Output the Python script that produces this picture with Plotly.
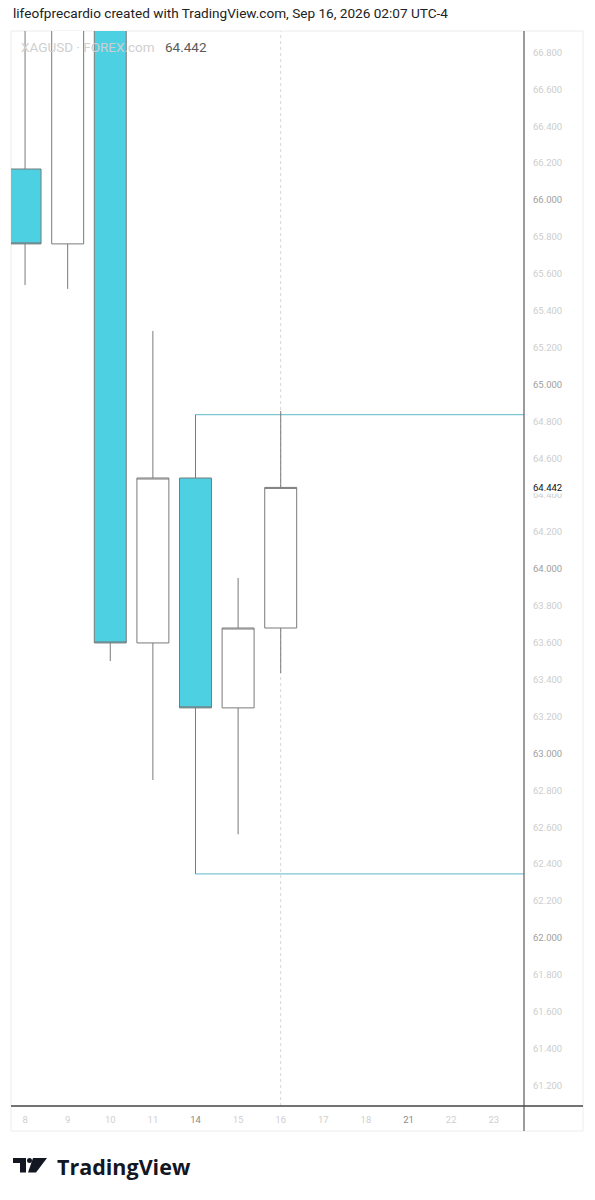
import plotly.graph_objects as go

# ---- data ----
days = ["8", "9", "10", "11", "14", "15", "16", "17", "18", "21", "22", "23"]
candle_days = ["8", "9", "10", "11", "14", "15", "16"]
opens = [66.168, 65.762, 67.30, 63.599, 64.493, 63.247, 63.680]
highs = [67.10, 67.55, 67.60, 65.290, 64.837, 63.951, 64.856]
lows = [65.539, 65.518, 63.501, 62.856, 62.347, 62.562, 63.436]
closes = [65.762, 67.30, 63.599, 64.493, 63.247, 63.680, 64.442]
box_top = 64.837
box_bottom = 62.347
last_price = 64.442
ytick_vals = [round(61.2 + 0.2 * i, 1) for i in range(29)]
bold_days = ["14", "21"]

# ---- geometry (page has an 8px body margin) ----
OFF = 8
W, H = 595 - OFF, 1200 - OFF
L, R, T, B = 11 - OFF, 524 - OFF, 31 - OFF, 1106 - OFF

def px(x):  # reference page pixel -> paper
    return (x - OFF - L) / (R - L)
def py(y):
    return (B - (y - OFF)) / (B - T)

xi = {d: i for i, d in enumerate(days)}
cx = [xi[d] for d in candle_days]

fig = go.Figure()
fig.add_trace(go.Candlestick(
    x=cx, open=opens, high=highs, low=lows, close=closes,
    increasing=dict(fillcolor="#ffffff", line=dict(color="#7a7a7a", width=1)),
    decreasing=dict(fillcolor="#4dd0e1", line=dict(color="#7a7a7a", width=1)),
    whiskerwidth=0, showlegend=False, hoverinfo="skip",
))

# rectangle drawing (extends right)
x14 = xi["14"]
for lvl in (box_top, box_bottom):
    fig.add_shape(type="line", xref="x", yref="y", x0=x14, x1=11.71, y0=lvl, y1=lvl,
                  line=dict(color="#7cc6d2", width=1.2), layer="below")

# crosshair dotted vertical line
fig.add_shape(type="line", xref="x", yref="paper", x0=xi["16"], x1=xi["16"], y0=0, y1=1,
              line=dict(color="#d6d6d6", width=1, dash="dot"), layer="below")

# outer border
fig.add_shape(type="rect", xref="paper", yref="paper", x0=px(11), x1=px(583), y0=py(1131), y1=py(31),
              line=dict(color="#ececec", width=1), layer="below")
# price axis vertical line
fig.add_shape(type="line", xref="paper", yref="paper", x0=px(524), x1=px(524), y0=py(1131), y1=py(31),
              line=dict(color="#666666", width=1.3))
# time axis horizontal line
fig.add_shape(type="line", xref="paper", yref="paper", x0=px(11), x1=px(583), y0=py(1106), y1=py(1106),
              line=dict(color="#444444", width=1.3))

# TradingView logo icon
def path(points):
    return "M " + " L ".join(f"{px(x)},{py(y)}" for x, y in points) + " Z"
fig.add_shape(type="path", xref="paper", yref="paper",
              path=path([(13, 1158), (26, 1158), (26, 1172.5), (20, 1172.5), (20, 1163), (13, 1163)]),
              fillcolor="#131722", line=dict(width=0))
fig.add_shape(type="circle", xref="paper", yref="paper",
              x0=px(27), x1=px(32), y0=py(1163), y1=py(1158),
              fillcolor="#131722", line=dict(width=0))
fig.add_shape(type="path", xref="paper", yref="paper",
              path=path([(33, 1158), (47, 1158), (36, 1172.5), (28, 1172.5)]),
              fillcolor="#131722", line=dict(width=0))

# annotations
ann = []
ann.append(dict(text="lifeofprecardio created with TradingView.com, Sep 16, 2026 02:07 UTC-4",
                x=px(11), y=py(13), xref="paper", yref="paper", xanchor="left", yanchor="middle",
                showarrow=False, font=dict(size=13.6, color="#222222", family="Roboto")))
ann.append(dict(text="XAGUSD · FOREX.com", x=px(19), y=py(47), xref="paper", yref="paper",
                xanchor="left", yanchor="middle", showarrow=False,
                font=dict(size=13.5, color="#cfcfcf", family="Roboto")))
ann.append(dict(text=f"{last_price:.3f}", x=px(163), y=py(47), xref="paper", yref="paper",
                xanchor="left", yanchor="middle", showarrow=False,
                font=dict(size=13.5, color="#5a5a5a", family="Roboto")))
ann.append(dict(text=f"{last_price:.3f}", x=px(532), y=last_price, xref="paper", yref="y",
                xanchor="left", yanchor="middle", showarrow=False, bgcolor="#ffffff",
                borderpad=0, font=dict(size=9.5, color="#111111", family="Roboto")))
ann.append(dict(text="<b>TradingView</b>", x=px(55), y=py(1166), xref="paper", yref="paper",
                xanchor="left", yanchor="middle", showarrow=False,
                font=dict(size=21.5, color="#131722", family="Open Sans")))
fig.update_layout(annotations=ann)

ytext = []
for v in ytick_vals:
    col = "#a0a0a0" if abs(v - round(v)) < 1e-6 else "#cdcdcd"
    ytext.append(f'<span style="color:{col}">{v:.3f}</span>')
xtext = []
for d in days:
    col = "#8a8a8a" if d in bold_days else "#cfcfcf"
    xtext.append(f'<span style="color:{col}">{d}</span>')

fig.update_layout(
    width=W, height=H,
    margin=dict(l=L, r=W - R, t=T, b=H - B, pad=0),
    paper_bgcolor="#ffffff", plot_bgcolor="#ffffff",
    font=dict(family="Roboto"),
    boxgap=0.25, boxgroupgap=0,
    xaxis=dict(range=[-0.33, 11.71], tickvals=list(range(len(days))), ticktext=xtext,
               showgrid=False, zeroline=False, showline=False, ticks="",
               tickfont=dict(size=9.5, color="#cfcfcf"), ticklabelstandoff=6,
               rangeslider=dict(visible=False), fixedrange=True),
    yaxis=dict(range=[61.089, 66.916], side="right", tickvals=ytick_vals, ticktext=ytext,
               showgrid=False, zeroline=False, showline=False, ticks="",
               tickfont=dict(size=9.5, color="#cdcdcd"), ticklabelstandoff=8, fixedrange=True),
)

fig.write_html("out.html")
